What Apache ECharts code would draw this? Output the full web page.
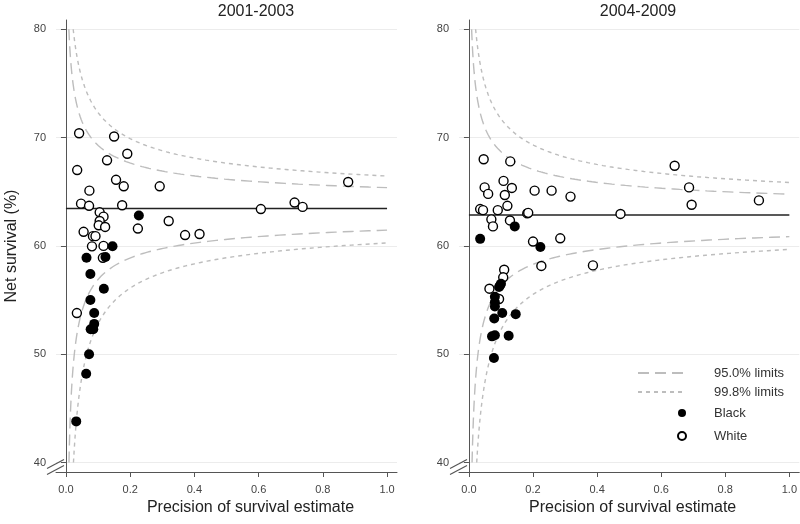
<!DOCTYPE html>
<html>
<head>
<meta charset="utf-8">
<script src="https://cdn.jsdelivr.net/npm/echarts@6/dist/echarts.min.js"></script>
<style>html,body{margin:0;padding:0;background:#fff;}#chart{width:800px;height:524px;}</style>
</head>
<body>
<div id="chart"></div>
<script>
// ---- Data ----
const panelTitles = ['2001-2003', '2004-2009'];
const targets = [63.45, 62.85];            // overall net survival (%) per period
const limitNames = ['95.0% limits', '99.8% limits'];
const limitZ = [1.96, 3.09];
const xTicks = [0, 0.2, 0.4, 0.6, 0.8, 1.0];
const yTicks = [40, 50, 60, 70, 80];

const left_white = [
  [0.041,70.4],[0.150,70.1],[0.191,68.5],[0.128,67.9],[0.035,67.0],[0.156,66.1],
  [0.180,65.5],[0.292,65.5],[0.879,65.9],[0.073,65.1],[0.047,63.9],[0.072,63.7],
  [0.175,63.75],[0.607,63.4],[0.712,64.0],[0.737,63.6],[0.105,63.1],[0.117,62.7],
  [0.105,62.3],[0.102,61.9],[0.122,61.75],[0.224,61.6],[0.055,61.3],[0.084,60.9],
  [0.092,60.9],[0.081,59.96],[0.117,60.0],[0.115,58.9],[0.034,53.8],[0.320,62.3],
  [0.371,61.0],[0.416,61.1]
];
const left_black = [
  [0.227,62.8],[0.145,59.96],[0.064,58.9],[0.123,58.97],[0.076,57.4],[0.118,56.05],
  [0.076,55.0],[0.088,53.8],[0.088,52.8],[0.077,52.3],[0.085,52.3],[0.072,50.0],
  [0.063,48.2],[0.032,43.8]
];
const right_white = [
  [0.046,68.0],[0.129,67.8],[0.642,67.4],[0.108,66.0],[0.049,65.4],[0.134,65.35],
  [0.687,65.4],[0.060,64.8],[0.112,64.7],[0.205,65.1],[0.258,65.1],[0.317,64.55],
  [0.905,64.2],[0.695,63.8],[0.120,63.7],[0.035,63.4],[0.044,63.3],[0.090,63.3],
  [0.182,63.0],[0.185,63.05],[0.473,62.95],[0.070,62.45],[0.128,62.35],[0.075,61.8],
  [0.200,60.4],[0.285,60.7],[0.226,58.15],[0.387,58.2],[0.110,57.8],[0.107,57.1],
  [0.064,56.05],[0.094,55.1]
];
const right_black = [
  [0.035,60.65],[0.143,61.8],[0.223,59.9],[0.100,56.5],[0.094,56.2],[0.097,56.35],
  [0.081,55.3],[0.081,54.8],[0.081,54.4],[0.104,53.8],[0.146,53.7],[0.079,53.3],
  [0.072,51.65],[0.081,51.75],[0.124,51.7],[0.078,49.65]
];
const whites = [left_white, right_white];
const blacks = [left_black, right_black];

// ---- Funnel control limits (complementary log-log scale; precision = 1/SE^2) ----
function limitCurve(T, z, upper) {
  const t = T / 100, k = t * Math.abs(Math.log(t));
  const bound = upper ? 0.8 : 0.4;
  const d0 = Math.abs(Math.log(Math.log(bound) / Math.log(t)));
  const xs = Math.pow(z * 0.01 / (k * d0), 2);
  const pts = [];
  const N = 160;
  for (let i = 0; i <= N; i++) {
    const x = xs * Math.pow(1 / xs, i / N);
    const d = z * 0.01 / (k * Math.sqrt(x));
    const v = 100 * Math.pow(t, Math.exp(upper ? -d : d));
    pts.push([x, v]);
  }
  return pts;
}

const chart = echarts.init(document.getElementById('chart'), null, {renderer: 'canvas'});
const FONT = 'Liberation Sans, Arial, sans-serif';
const axisGray = '#555';
const grids = [
  {left: 56, top: 20, width: 341, height: 452},
  {left: 459, top: 20, width: 341, height: 452}
];
const xAxes = [], yAxes = [], series = [], titles = [];
for (let p = 0; p < 2; p++) {
  titles.push({
    text: panelTitles[p], left: p === 0 ? 251 : 633, top: -1, textAlign: 'center',
    textStyle: {fontFamily: FONT, fontSize: 16, fontWeight: 'normal', color: '#222'}
  });
  xAxes.push({
    type: 'value', gridIndex: p, min: -0.031, max: 1.031,
    name: 'Precision of survival estimate', nameLocation: 'middle', nameGap: 26,
    nameTextStyle: {fontFamily: FONT, fontSize: 16, color: '#222', padding: [0, 0, 0, p === 0 ? 48 : 7]},
    axisLine: {show: true, lineStyle: {color: axisGray, width: 1}},
    axisTick: {show: true, length: 5, customValues: xTicks, lineStyle: {color: axisGray}},
    axisLabel: {customValues: xTicks, formatter: v => v.toFixed(1), fontFamily: FONT, fontSize: 11, color: '#444', margin: 12},
    splitLine: {show: false}
  });
  yAxes.push({
    type: 'value', gridIndex: p, min: 39.13, max: 80.85,
    name: p === 0 ? 'Net survival (%)' : '', nameLocation: 'middle', nameGap: 36,
    nameTextStyle: {fontFamily: FONT, fontSize: 16, color: '#222'},
    axisLine: {show: true, lineStyle: {color: axisGray, width: 1}},
    axisTick: {show: true, length: 5, customValues: yTicks, lineStyle: {color: axisGray}},
    axisLabel: {customValues: yTicks, fontFamily: FONT, fontSize: 11, color: '#444', margin: 10},
    splitLine: {show: true, lineStyle: {color: '#ececec', width: 1}}
  });
  const dashTypes = [[11, 6], [4, 4]];
  for (let j = 0; j < 2; j++) {
    for (const up of [true, false]) {
      series.push({
        type: 'line', name: limitNames[j], xAxisIndex: p, yAxisIndex: p,
        data: limitCurve(targets[p], limitZ[j], up), showSymbol: false, symbol: 'none',
        smooth: false, silent: true, z: 1,
        lineStyle: {color: '#bdbdbd', width: 1.4, type: dashTypes[j]},
        itemStyle: {color: '#bdbdbd', opacity: 0}
      });
    }
  }
  series.push({
    type: 'line', name: 'target' + p, xAxisIndex: p, yAxisIndex: p,
    data: [[0, targets[p]], [1, targets[p]]], symbol: 'none', z: 2, silent: true,
    lineStyle: {color: '#222', width: 1.3}
  });
  series.push({
    type: 'scatter', name: 'White', xAxisIndex: p, yAxisIndex: p, data: whites[p],
    symbol: 'circle', symbolSize: 9, z: 3,
    itemStyle: {color: '#fff', borderColor: '#000', borderWidth: 1.4, opacity: 1}
  });
  series.push({
    type: 'scatter', name: 'Black', xAxisIndex: p, yAxisIndex: p, data: blacks[p],
    symbol: 'circle', symbolSize: 10, z: 4,
    itemStyle: {color: '#000', opacity: 1}
  });
}

const legendText = {fontFamily: FONT, fontSize: 13, color: '#333', lineHeight: 16};
chart.setOption({
  animation: false,
  backgroundColor: '#fff',
  title: titles,
  grid: grids,
  xAxis: xAxes,
  yAxis: yAxes,
  legend: [
    {
      data: limitNames.map(n => ({name: n, itemStyle: {opacity: 0}})),
      orient: 'vertical', left: 637, top: 365, itemWidth: 46, itemHeight: 10,
      itemGap: 3, selectedMode: false, padding: 0,
      textStyle: Object.assign({}, legendText, {padding: [0, 0, 0, 25]})
    },
    {
      data: ['Black', 'White'], orient: 'vertical', left: 677, top: 405, itemWidth: 8, itemHeight: 9,
      itemGap: 7, selectedMode: false, padding: 0,
      textStyle: Object.assign({}, legendText, {padding: [0, 0, 0, 23]})
    }
  ],
  series: series
});

// axis break marks near the bottom of each y axis
const graphics = [];
for (let p = 0; p < 2; p++) {
  const pt = chart.convertToPixel({gridIndex: p}, [-0.031, 40]);
  const ax = pt[0], ay = pt[1];
  graphics.push({type: 'rect', shape: {x: ax - 2, y: ay + 1, width: 4, height: 5}, style: {fill: '#fff'}, z: 100});
  for (const off of [0, 6]) {
    graphics.push({
      type: 'line', z: 101,
      shape: {x1: ax - 9, y1: ay + 6 + off, x2: ax + 8, y2: ay - 3 + off},
      style: {stroke: axisGray, lineWidth: 1.2}
    });
  }
}
chart.setOption({graphic: graphics});
</script>
</body>
</html>
